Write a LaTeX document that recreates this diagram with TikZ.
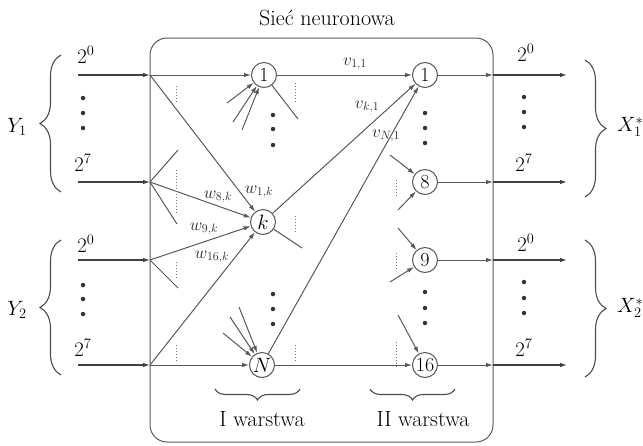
\documentclass[tikz,border=0pt]{standalone}
\usetikzlibrary{arrows.meta,decorations.pathreplacing}
\begin{document}
\begin{tikzpicture}[x=1pt,y=-1pt,
  ln/.style={draw=black!65, line width=1pt},
  arr/.style={ln,-{Latex[length=7pt,width=4.5pt]}},
  neur/.style={circle, draw=black!65, line width=1pt, minimum size=25pt, inner sep=0pt, fill=white, font=\fontsize{20}{22}\selectfont},
  big/.style={font=\fontsize{22}{24}\selectfont, inner sep=0pt},
  wl/.style={font=\fontsize{17}{19}\selectfont, inner sep=0pt, text=black!85},
  dotv/.style={draw=black!55, line width=1pt, dotted},
  dotn/.style={circle, fill=black!80, inner sep=0pt, minimum size=4.5pt},
  bracel/.style={draw=black!70, line width=1.1pt, decorate, decoration={brace, amplitude=#1}}
]
\useasboundingbox (0,0) rectangle (643,445);

% title and frame
\node[big] (title) at (327,18) {Sieć neuronowa};
\node[draw=black!65, line width=1pt, rounded corners=17pt, minimum width=343pt, minimum height=404pt, inner sep=0pt] (box) at (321.5,240) {};

% input / output end points
\foreach \n/\y in {1/75,2/182,3/260,4/365}{
  \coordinate (s\n) at (78,\y);
  \coordinate (i\n) at (150,\y);
  \coordinate (e\n) at (493,\y);
  \coordinate (t\n) at (567,\y);
}

% neurons
\node[neur] (n1) at (264,75) {1};
\node[neur] (nk) at (263,222) {$k$};
\node[neur] (nN) at (262,365) {$N$};
\node[neur] (m1) at (425,75) {1};
\node[neur] (m8) at (425,182) {8};
\node[neur] (m9) at (425,260) {9};
\node[neur] (m16) at (425,365) {16};

% input labels
\node[big] (a0) at (86,55) {$2^0$};
\node[big] (a7) at (83,163) {$2^7$};
\node[big] (b0) at (86,244) {$2^0$};
\node[big] (b7) at (83,348) {$2^7$};
\node[big] (c0) at (526,53) {$2^0$};
\node[big] (c7) at (524,163) {$2^7$};
\node[big] (d0) at (526,243) {$2^0$};
\node[big] (d7) at (524,348) {$2^7$};

% vertical dots
\foreach \nm/\x/\ya/\yb/\yc in {p1/83/98/113/128, p2/83/285/299/314, p3/524/97/112/127, p4/524/282/298/313, p5/273/115/129/145, p6/273/294/309/324, p7/425/113/128/143, p8/425/292/308/323}{
  \node[dotn] (\nm a) at (\x,\ya) {};
  \node[dotn] (\nm b) at (\x,\yb) {};
  \node[dotn] (\nm c) at (\x,\yc) {};
}

% input arrows and output arrows
\foreach \n in {1,2,3,4}{
  \draw[arr, line width=1.2pt, draw=black!75] (s\n) -- (i\n);
  \draw[arr, line width=1.2pt, draw=black!75] (e\n) -- (t\n);
}
\draw[arr] (m1) -- (e1);
\draw[arr] (m8) -- (e2);
\draw[arr] (m9) -- (e3);
\draw[arr] (m16) -- (e4);

% first layer connections
\draw[arr] (i1) -- (n1);
\draw[arr] (i1) -- (nk);
\draw[arr] (i2) -- (nk);
\draw[arr] (i3) -- (nk);
\draw[arr] (i4) -- (nk);
\draw[arr] (i4) -- (nN);

\coordinate (q1) at (178,150);
\coordinate (q2) at (177,224);
\coordinate (q3) at (178,288);
\draw[ln] (i2) -- (q1);
\draw[ln] (i2) -- (q2);
\draw[ln] (i3) -- (q3);

% other inputs to neuron 1 and N
\coordinate (u1) at (227,103);
\coordinate (u2) at (233,122);
\coordinate (u3) at (242,130);
\draw[arr] (u1) -- (n1);
\draw[arr] (u2) -- (n1);
\draw[arr] (u3) -- (n1);
\coordinate (z1) at (223,333);
\coordinate (z2) at (230,317);
\coordinate (z3) at (239,307);
\draw[arr] (z1) -- (nN);
\draw[arr] (z2) -- (nN);
\draw[arr] (z3) -- (nN);

% outputs of first layer
\coordinate (r1) at (298,119);
\coordinate (r2) at (302,248);
\draw[ln] (n1) -- (r1);
\draw[ln] (nk) -- (r2);
\draw[arr] (n1) -- (m1);
\draw[arr] (nk) -- (m1);
\draw[arr] (nN) -- (m1);
\draw[arr] (nN) -- (m16);

% other inputs to second layer
\coordinate (h1) at (390,155);
\coordinate (h2) at (398,210);
\coordinate (h3) at (398,228);
\coordinate (h4) at (390,282);
\coordinate (h5) at (398,315);
\draw[arr] (h1) -- (m8);
\draw[arr] (h2) -- (m8);
\draw[arr] (h3) -- (m9);
\draw[arr] (h4) -- (m9);
\draw[arr] (h5) -- (m16);

% dotted marks
\foreach \x/\ya/\yb in {176/86/103, 176/170/213, 176/262/280, 176/345/363, 295/83/103, 295/216/233, 295/345/362, 396/180/197, 396/253/270, 396/342/367}{
  \draw[dotv] (\x,\ya) -- (\x,\yb);
}

% weight labels
\node[wl] (v11) at (355,64) {$v_{1,1}$};
\node[wl] (vk1) at (367,107) {$v_{k,1}$};
\node[wl] (vN1) at (386,136) {$v_{N,1}$};
\node[wl] (w1k) at (259,192) {$w_{1,k}$};
\node[wl] (w8k) at (218,197) {$w_{8,k}$};
\node[wl] (w9k) at (204,229) {$w_{9,k}$};
\node[wl] (w16k) at (212,257) {$w_{16,k}$};

% braces
\coordinate (yb1) at (61,192);
\coordinate (yt1) at (61,55);
\coordinate (yb2) at (61,375);
\coordinate (yt2) at (61,240);
\draw[bracel=21pt] (yb1) -- (yt1);
\draw[bracel=21pt] (yb2) -- (yt2);
\node[big] (Y1) at (17,127) {$Y_1$};
\node[big] (Y2) at (17,310) {$Y_2$};

\coordinate (xt1) at (585,60);
\coordinate (xb1) at (585,197);
\coordinate (xt2) at (585,240);
\coordinate (xb2) at (585,377);
\draw[bracel=21pt] (xt1) -- (xb1);
\draw[bracel=21pt] (xt2) -- (xb2);
\node[big, anchor=west] (X1) at (617,127) {$X_1^*$};
\node[big, anchor=west] (X2) at (617,308) {$X_2^*$};

\coordinate (bl1) at (300,389);
\coordinate (bl2) at (215,389);
\coordinate (bm1) at (455,389);
\coordinate (bm2) at (370,389);
\draw[bracel=11pt] (bl1) -- (bl2);
\draw[bracel=11pt] (bm1) -- (bm2);
\node[big] (L1) at (262,419) {I warstwa};
\node[big] (L2) at (423,419) {II warstwa};
\end{tikzpicture}
\end{document}
